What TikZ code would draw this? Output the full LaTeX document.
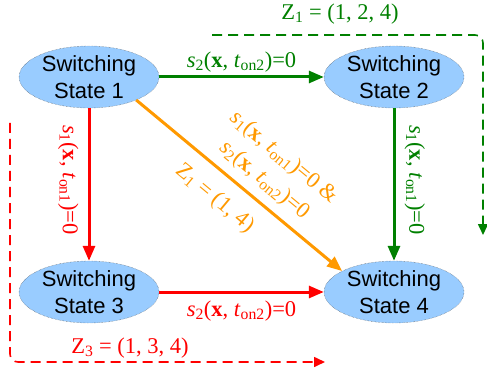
\documentclass[tikz,border=0pt]{standalone}
\usepackage{fontspec}
\setmainfont{Liberation Serif}
\newfontfamily\statefont{Liberation Sans}
\usetikzlibrary{arrows.meta,shapes.geometric}
\definecolor{stategreen}{RGB}{0,128,0}
\definecolor{statered}{RGB}{255,0,0}
\definecolor{stateorange}{RGB}{255,153,0}
\definecolor{statefill}{RGB}{153,204,255}
\newcommand{\cond}[2]{\textit{s}\textsubscript{#1}(\textbf{x}, \textit{t}\textsubscript{on#2})=0}

\begin{document}
\begin{tikzpicture}[x=1pt,y=1pt,
        state/.style={ellipse,draw=gray!60!black,densely dotted,fill=statefill,
            minimum width=140pt,minimum height=62pt,inner sep=0pt,align=center,
            font=\statefont\fontsize{22}{27}\selectfont},
        trans/.style={line width=3pt,-{Triangle[length=15pt,width=12pt]}},
        zone/.style={line width=1.6pt,dash pattern=on 10pt off 6pt,rounded corners=8pt,
            -{Triangle[length=11pt,width=10pt]}},
        lbl/.style={font=\fontsize{22.5}{30}\selectfont,inner sep=2pt}]
        \useasboundingbox (0,0) rectangle (487,378);

        % States
        \node[state] (s1) at (89,301) {Switching\\State 1};
        \node[state] (s2) at (394,301) {Switching\\State 2};
        \node[state] (s3) at (89,86) {Switching\\State 3};
        \node[state] (s4) at (394,86) {Switching\\State 4};

        % Transitions
        \draw[trans,stategreen] (s1) -- node[lbl,above=1pt] (c12) {\cond{2}{2}} (s2);
        \draw[trans,statered] (s3) -- node[lbl,below=5pt] (c34) {\cond{2}{2}} (s4);
        \draw[trans,statered] (s1) -- node[lbl,sloped,below=7pt,pos=0.47] (c13) {\cond{1}{1}} (s3);
        \draw[trans,stategreen] (s2) -- node[lbl,sloped,above=7pt,pos=0.47] (c24) {\cond{1}{1}} (s4);
        \draw[trans,stateorange] (s1.-26) --
            node[lbl,sloped,above=6pt,pos=0.56,align=center] (c14) {\cond{1}{1} \&\\\cond{2}{2}}
            node[lbl,sloped,below=12pt,pos=0.46] (z2) {Z\textsubscript{1} = (1, 4)} (s4.158);

        % Zones
        \coordinate (g0) at (212,343);
        \coordinate (g1) at (483,343);
        \coordinate (g2) at (483,143);
        \draw[zone,stategreen] (g0) -- (g1) -- (g2);
        \node[lbl,stategreen] (z1) at (340,364) {Z\textsubscript{1} = (1, 2, 4)};

        \coordinate (r0) at (10,255);
        \coordinate (r1) at (10,16);
        \coordinate (r2) at (325,16);
        \draw[zone,statered] (r0) -- (r1) -- (r2);
        \node[lbl,statered] (z3) at (130,30) {Z\textsubscript{3} = (1, 3, 4)};
    \end{tikzpicture}
\end{document}
